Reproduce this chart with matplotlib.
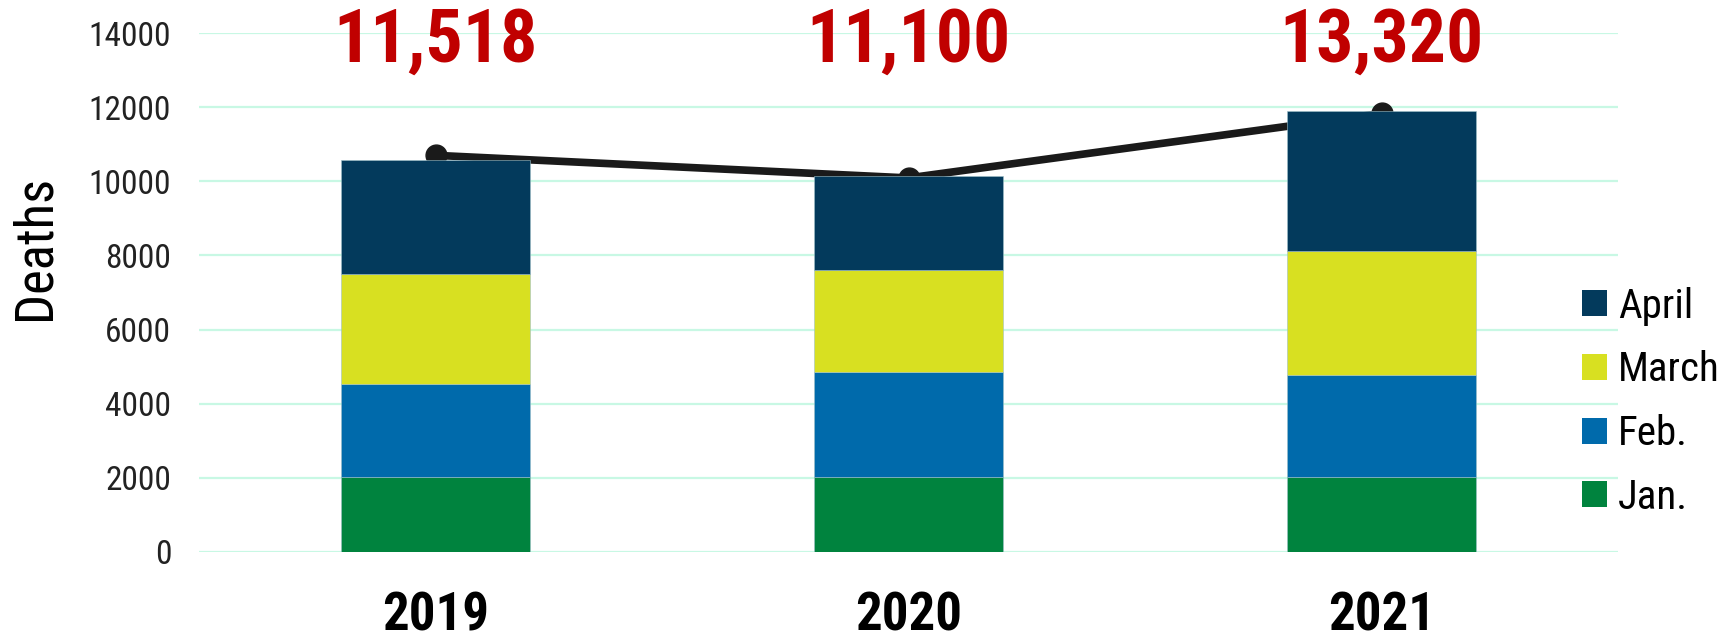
import matplotlib
matplotlib.use("Agg")
import matplotlib.pyplot as plt
import numpy as np
from matplotlib.patches import Patch

years = ["2019", "2020", "2021"]
months = ["Jan.", "Feb.", "March", "April"]
jan = [2010, 2018, 2020]
feb = [2519, 2825, 2760]
march = [2978, 2771, 3346]
april = [3067, 2521, 3766]
line_vals = [10700, 10090, 11830]
totals_labels = ["11,518", "11,100", "13,320"]
yticks = [0, 2000, 4000, 6000, 8000, 10000, 12000, 14000]

colors = {"Jan.": "#00833e", "Feb.": "#006aab", "March": "#d8e021", "April": "#033a5c"}

FAM = ["Roboto Condensed", "Roboto", "DejaVu Sans"]
plt.rcParams["font.family"] = FAM

fig = plt.figure(figsize=(17.35, 6.39), dpi=100)
ax = fig.add_axes([199 / 1735, 1 - 552 / 639, (1618 - 199) / 1735, (552 - 33) / 639])

x = np.arange(len(years))
series = {"Jan.": jan, "Feb.": feb, "March": march, "April": april}
bottom = np.zeros(len(years))
for m in months:
    vals = np.array(series[m])
    ax.bar(x, vals, width=0.4, bottom=bottom, color=colors[m], zorder=3,
           edgecolor="#9fc0c8", linewidth=0.4)
    bottom += vals

ax.plot(x, line_vals, color="#1a1a1a", lw=5.5, marker="o", markersize=15, zorder=2,
        solid_capstyle="round")

for xi, lab in zip(x, totals_labels):
    ax.text(xi, 13218, lab, ha="center", va="baseline", color="#c00000",
            fontsize=53, fontweight="bold", family=FAM, zorder=5, clip_on=False)

ax.set_xlim(-0.5, 2.5)
ax.set_ylim(0, 14000)
ax.set_yticks(yticks)
ax.set_yticklabels([str(v) for v in yticks], fontsize=24, color="#222222")
ax.set_xticks(x)
ax.set_xticklabels(years, fontsize=38, fontweight="bold", color="black")
ax.tick_params(axis="both", length=0)
ax.tick_params(axis="y", pad=20)
ax.tick_params(axis="x", pad=28)
ax.grid(axis="y", color="#c8f8e4", lw=1.6, zorder=0)
ax.set_axisbelow(True)
for s in ax.spines.values():
    s.set_visible(False)

fig.text(35 / 1735, 1 - 247 / 639, "Deaths", rotation=90, ha="center", va="center",
         fontsize=38, color="black")

handles = [Patch(facecolor=colors[m], edgecolor="none") for m in months[::-1]]
fig.legend(handles, months[::-1], loc="center left",
           bbox_to_anchor=(1582 / 1735, 1 - 401.7 / 639), bbox_transform=fig.transFigure,
           frameon=False, fontsize=29.5, handlelength=0.6, handleheight=0.6,
           handletextpad=0.27, labelspacing=0.6, borderpad=0, borderaxespad=0)

fig.savefig("out.png", dpi=100)
